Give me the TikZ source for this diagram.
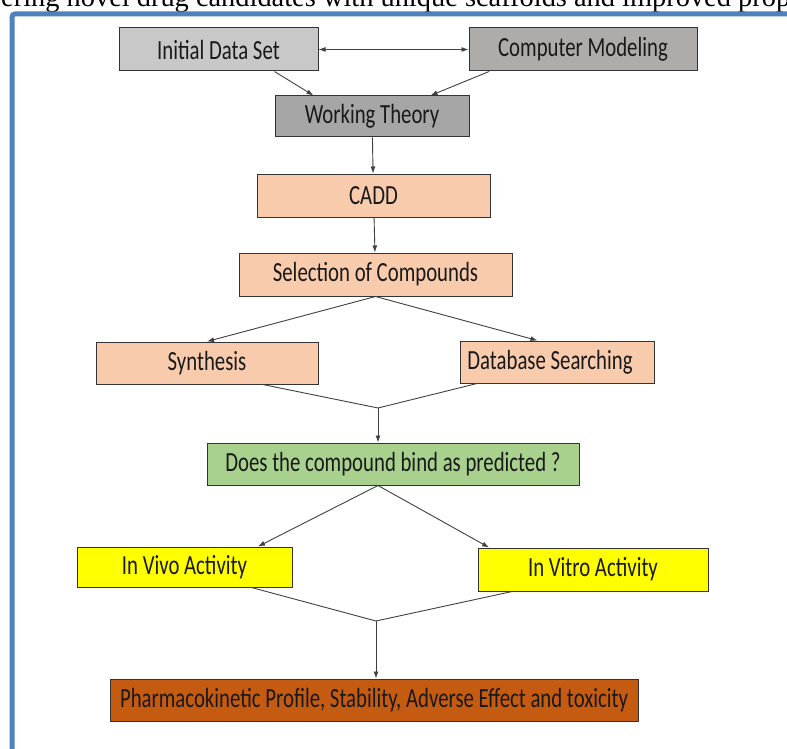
\documentclass[tikz,border=0pt]{standalone}
\usepackage{fontspec}
\setmainfont{Carlito}[FakeStretch=0.75]
\newfontfamily\headfont{Liberation Serif}
\usetikzlibrary{calc, arrows.meta}
\usepackage{xcolor}
\definecolor{mlightgray}{RGB}{200,200,200}
\definecolor{mgray}{RGB}{174,171,171}
\definecolor{mdarkgray}{RGB}{166,166,166}
\definecolor{mpeach}{RGB}{248,203,173}
\definecolor{mgreen}{RGB}{169,209,142}
\definecolor{myellow}{RGB}{255,255,0}
\definecolor{mbrown}{RGB}{197,90,17}
\definecolor{mframe}{RGB}{79,129,189}

\begin{document}
\begin{tikzpicture}[x=1pt, y=-1pt,
    box/.style={draw=black!80, line width=1pt, inner sep=0pt, text=black!90,
                font=\fontsize{27.7}{32}\selectfont},
    graybox/.style={box, fill=mgray},
    peachbox/.style={box, fill=mpeach},
    greenbox/.style={box, fill=mgreen},
    yellowbox/.style={box, fill=myellow},
    brownbox/.style={box, fill=mbrown},
    arrow/.style={-{Latex[length=7pt, width=5pt]}, line width=0.9pt, draw=black!75},
    joinline/.style={line width=0.9pt, draw=black!75},
]
\useasboundingbox (0,0) rectangle (787,749);
\clip (0,0) rectangle (787,749);
\fill[white] (0,0) rectangle (787,749);

% caption line cut off by the page
\node[anchor=base west, inner sep=0pt, font=\headfont\fontsize{28.4}{32}\selectfont] (caption) at (1,7)
    {ering novel drug candidates with unique scaffolds and improved prop};
\draw[mframe, line width=5pt, rounded corners=3pt] (800,14) -- (12,14) -- (12,760);

\node[graybox, fill=mlightgray, minimum width=199, minimum height=43] (init) at (218.5,49.5) {Initial Data Set};
\node[graybox, minimum width=228, minimum height=43] (model) at (583,49.5) {Computer Modeling};
\node[graybox, fill=mdarkgray, minimum width=194, minimum height=41] (theory) at (372,116.5) {Working Theory};
\node[peachbox, minimum width=233, minimum height=43] (cadd) at (373.5,195.5) {CADD};
\node[peachbox, minimum width=273, minimum height=43] (select) at (375.5,274.5) {Selection of Compounds};
\node[peachbox, minimum width=222, minimum height=42] (synth) at (207,363) {Synthesis};
\node[peachbox, minimum width=194, minimum height=42] (dbsearch) at (557,362) {Database Searching\hspace*{14pt}};
\node[greenbox, minimum width=372, minimum height=42] (bind) at (393,464) {Does the compound bind as predicted ?};
\node[yellowbox, minimum width=215, minimum height=40] (invivo) at (184.5,567) {In Vivo Activity};
\node[yellowbox, minimum width=230, minimum height=43] (invitro) at (593,569.5) {In Vitro Activity};
\node[brownbox, minimum width=528, minimum height=42] (pharma) at (374,700) {Pharmacokinetic Profile, Stability, Adverse Effect and toxicity};

\coordinate (join1) at (378,408);
\coordinate (join2) at (376,621);

\draw[arrow, {Latex[length=7pt, width=5pt]}-{Latex[length=7pt, width=5pt]}] (init.east) -- (model.west);
\draw[arrow] (init.south -| theory.west) -- ($(theory.north west)!0.2!(theory.north east)$);
\draw[arrow] ($(model.south west)!0.09!(model.south east)$) -- ($(theory.north west)!0.8!(theory.north east)$);
\draw[arrow] (theory) -- (cadd);
\draw[arrow] (cadd) -- (select);
\draw[arrow] (select.south) -- (synth.north);
\draw[arrow] (select.south) -- ($(dbsearch.north west)!0.4!(dbsearch.north east)$);

\draw[joinline] ($(synth.south west)!0.75!(synth.south east)$) -- (join1)
    -- ($(dbsearch.south west)!0.09!(dbsearch.south east)$);
\draw[arrow] (join1) -- (join1 |- bind.north);

\draw[arrow] (bind.south -| join1) -- ($(invivo.north west)!0.84!(invivo.north east)$);
\draw[arrow] (bind.south -| join1) -- ($(invitro.north west)!0.05!(invitro.north east)$);

\draw[joinline] ($(invivo.south west)!0.81!(invivo.south east)$) -- (join2)
    -- ($(invitro.south west)!0.15!(invitro.south east)$);
\draw[arrow] (join2) -- (join2 |- pharma.north);

\end{tikzpicture}
\end{document}
